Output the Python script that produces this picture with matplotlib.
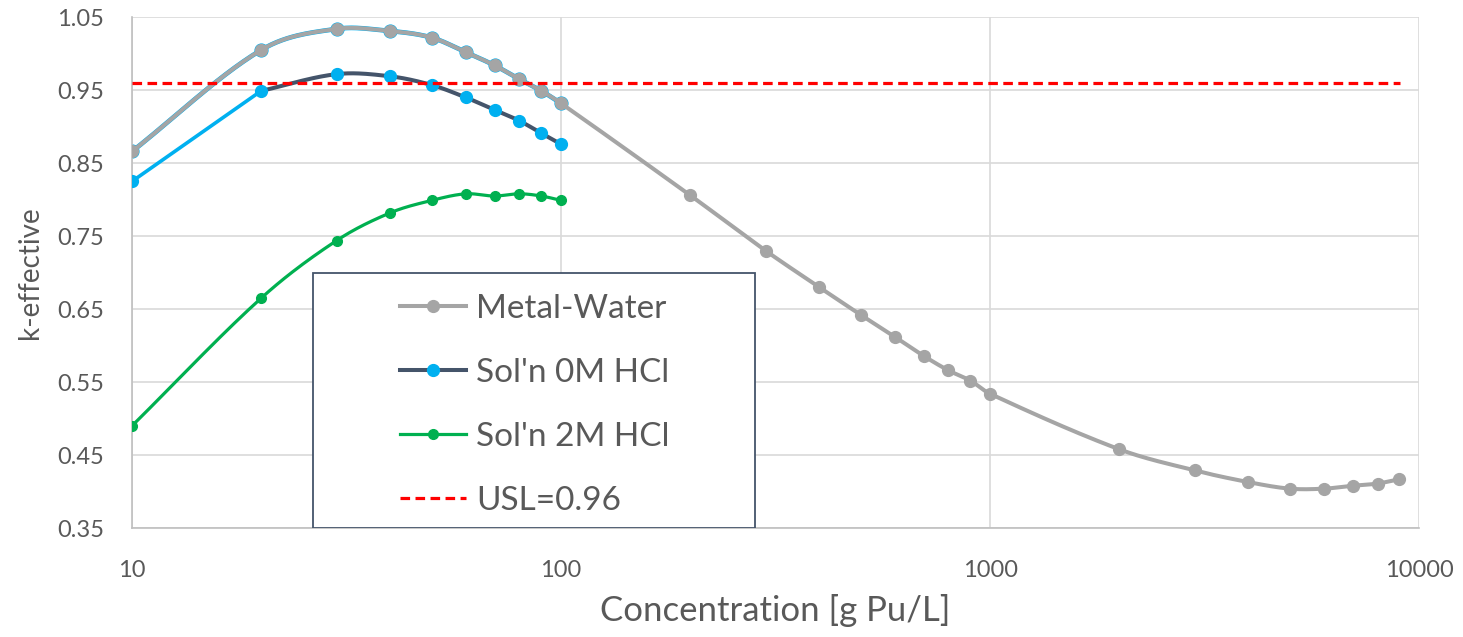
import numpy as np
import matplotlib.pyplot as plt
from matplotlib.patches import Rectangle

conc_metal = [10, 20, 30, 40, 50, 60, 70, 80, 90, 100, 200, 300, 400, 500, 600, 700, 800, 900,
              1000, 2000, 3000, 4000, 5000, 6000, 7000, 8000, 9000]
k_metal = [0.866, 1.005, 1.034, 1.031, 1.022, 1.002, 0.984, 0.965, 0.949, 0.932, 0.806, 0.730,
           0.680, 0.642, 0.612, 0.586, 0.566, 0.552, 0.534, 0.458, 0.429, 0.413, 0.404, 0.404,
           0.408, 0.411, 0.417]

conc_sol = [10, 20, 30, 40, 50, 60, 70, 80, 90, 100]
k_0m = [0.825, 0.949, 0.972, 0.969, 0.957, 0.940, 0.923, 0.908, 0.891, 0.876]
k_2m = [0.490, 0.665, 0.744, 0.782, 0.799, 0.808, 0.805, 0.808, 0.805, 0.799]

usl = 0.96

GRAY = "#A5A5A5"
BLUE = "#00B0F0"
DARK = "#44546A"
GREEN = "#00B050"
RED = "#FF0000"
TXT = "#595959"


def smooth(x, y, n=30):
    # excel-like smoothed line (catmull-rom in log x)
    lx = np.log10(x)
    y = np.asarray(y, float)
    px, py = [], []
    for i in range(len(lx) - 1):
        x0, x1 = lx[i], lx[i + 1]
        y0, y1 = y[i], y[i + 1]
        if i == 0:
            m0 = (y1 - y0) / (x1 - x0)
        else:
            m0 = (y1 - y[i - 1]) / (x1 - lx[i - 1])
        if i == len(lx) - 2:
            m1 = (y1 - y0) / (x1 - x0)
        else:
            m1 = (y[i + 2] - y0) / (lx[i + 2] - x0)
        t = np.linspace(0, 1, n)
        h = x1 - x0
        h00 = 2 * t**3 - 3 * t**2 + 1
        h10 = t**3 - 2 * t**2 + t
        h01 = -2 * t**3 + 3 * t**2
        h11 = t**3 - t**2
        px.extend(x0 + t * h)
        py.extend(h00 * y0 + h10 * h * m0 + h01 * y1 + h11 * h * m1)
    return 10 ** np.array(px), np.array(py)


plt.rcParams['font.family'] = ['Lato', 'DejaVu Sans']

fig = plt.figure(figsize=(14.63, 6.37), dpi=100)
ax = fig.add_axes([0.0902, 0.171, 0.8798, 0.802])

# faint blue trace under the metal-water curve
sx, sy = smooth(conc_metal[:10], k_metal[:10])
ax.plot(sx, sy, color=BLUE, lw=3.4, zorder=2)
ax.plot(conc_metal[:10], k_metal[:10], 'o', color=BLUE, ms=9.2, zorder=2)

sx, sy = smooth(conc_metal, k_metal)
ax.plot(sx, sy, color=GRAY, lw=2.9, zorder=3)
ax.plot(conc_metal, k_metal, 'o', color=GRAY, ms=8.5, zorder=3)

ax.plot(conc_sol[:2], k_0m[:2], color=BLUE, lw=2.6, zorder=4)
sx, sy = smooth(conc_sol[1:], k_0m[1:])
ax.plot(sx, sy, color=DARK, lw=2.9, zorder=4)
ax.plot(conc_sol, k_0m, 'o', color=BLUE, ms=8.5, zorder=5)

sx, sy = smooth(conc_sol, k_2m)
ax.plot(sx, sy, color=GREEN, lw=2.3, zorder=4)
ax.plot(conc_sol, k_2m, 'o', color=GREEN, ms=7, zorder=5)

ax.axhline(usl, xmin=0, xmax=0.985, color=RED, lw=2.3, ls=(0, (3, 1.7)), zorder=6)

# legend box
box = Rectangle((0.1406, 0.0), 0.3434, 0.499, transform=ax.transAxes, facecolor="white",
                edgecolor=DARK, lw=1.3, zorder=7)
ax.add_patch(box)

h1, = ax.plot([], [], '-o', color=GRAY, mfc=GRAY, mec=GRAY, lw=2.9, ms=8.5, label="Metal-Water")
h2, = ax.plot([], [], '-o', color=DARK, mfc=BLUE, mec=BLUE, lw=2.9, ms=8.5, label="Sol'n 0M HCl")
h3, = ax.plot([], [], '-o', color=GREEN, mfc=GREEN, mec=GREEN, lw=2.3, ms=7, label="Sol'n 2M HCl")
h4, = ax.plot([], [], color=RED, lw=2.3, ls=(0, (3, 1.7)), label="USL=0.96")
leg = ax.legend(handles=[h1, h2, h3, h4], loc='upper left', bbox_to_anchor=(0.208, 0.458),
                fontsize=24, frameon=False, handlelength=2.0, handletextpad=0.3,
                labelspacing=1.02, borderpad=0, borderaxespad=0)
leg.set_zorder(8)
for t in leg.get_texts():
    t.set_color(TXT)

ax.set_xscale('log')
ax.set_xlim(10, 10000)
ax.set_ylim(0.35, 1.05)
ax.set_xticks([10, 100, 1000, 10000])
ax.set_xticklabels(["10", "100", "1000", "10000"])
ax.minorticks_off()
ax.set_yticks(np.arange(0.35, 1.06, 0.1))
ax.set_yticklabels([f"{v:.2f}" for v in np.arange(0.35, 1.06, 0.1)])
ax.tick_params(length=0, labelsize=17, labelcolor=TXT)
ax.tick_params(axis='y', pad=20)
ax.tick_params(axis='x', pad=23)
ax.grid(True, color="#D9D9D9", lw=1.2)
ax.set_axisbelow(True)
for s in ['top', 'right']:
    ax.spines[s].set_visible(False)
for s in ['left', 'bottom']:
    ax.spines[s].set_color("#BFBFBF")
    ax.spines[s].set_linewidth(1.2)

ax.set_xlabel("Concentration [g Pu/L]", fontsize=25, color=TXT, labelpad=9)
ax.set_ylabel("k-effective", fontsize=20, color=TXT, labelpad=10)

fig.savefig("out.png", dpi=100)
